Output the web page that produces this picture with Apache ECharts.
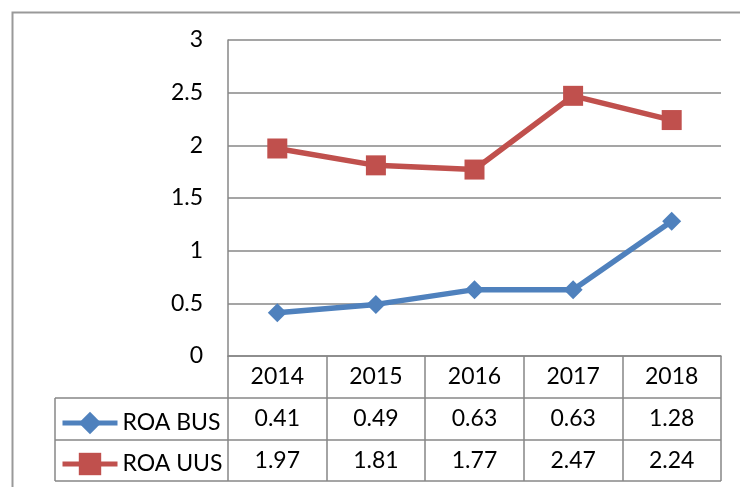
<!DOCTYPE html>
<html>
<head>
<meta charset="utf-8">
<script src="https://cdn.jsdelivr.net/npm/echarts@6/dist/echarts.min.js"></script>
<style>
  html, body { margin: 0; padding: 0; background: #fff; }
  #main { width: 740px; height: 487px; }
</style>
</head>
<body>
<div id="main"></div>
<script>
// data
var years = ['2014', '2015', '2016', '2017', '2018'];
var roaBus = [0.41, 0.49, 0.63, 0.63, 1.28];
var roaUus = [1.97, 1.81, 1.77, 2.47, 2.24];
var seriesNames = ['ROA BUS', 'ROA UUS'];
var yTicks = [0, 0.5, 1, 1.5, 2, 2.5, 3];

var FONT = 'Lato, "Open Sans", sans-serif';
var GRID_COLOR = '#878787';
var BLUE = '#4F81BD';
var RED = '#C0504D';

var myChart = echarts.init(document.getElementById('main'));

// table cells: [column, row, value]
var tableData = [];
roaBus.forEach(function (v, i) { tableData.push([i, seriesNames[0], v]); });
roaUus.forEach(function (v, i) { tableData.push([i, seriesNames[1], v]); });

var option = {
    backgroundColor: '#fff',
    animation: false,
    textStyle: { fontFamily: FONT },
    // outer chart frame and legend column's left edge
    graphic: [
        { type: 'rect', left: 10, top: 10, shape: { width: 800, height: 600 },
          style: { fill: 'none', stroke: '#999', lineWidth: 2 }, silent: true },
        { type: 'line', shape: { x1: 55, y1: 398, x2: 55, y2: 481 },
          style: { stroke: GRID_COLOR, lineWidth: 1.5 }, silent: true }
    ],
    legend: {
        orient: 'vertical',
        left: 55,
        top: 404,
        itemWidth: 55,
        itemHeight: 28,
        itemGap: 13,
        data: seriesNames,
        lineStyle: { width: 5 },
        textStyle: { fontFamily: FONT, fontSize: 23, color: '#000', lineHeight: 28 }
    },
    grid: [
        { left: 228, right: 19, top: 40, bottom: 131 },
        { left: 228, right: 19, top: 398, height: 83 }
    ],
    xAxis: [
        {
            gridIndex: 0,
            type: 'category',
            data: years,
            boundaryGap: true,
            axisLine: { lineStyle: { color: GRID_COLOR, width: 1.5 } },
            axisTick: { show: true, inside: false, length: 125, lineStyle: { color: GRID_COLOR, width: 1.5 } },
            axisLabel: { margin: 21, verticalAlign: 'middle', fontSize: 23, color: '#000', fontFamily: FONT }
        },
        {
            gridIndex: 1,
            type: 'category',
            data: years,
            show: false
        }
    ],
    yAxis: [
        {
            gridIndex: 0,
            type: 'value',
            min: yTicks[0],
            max: yTicks[yTicks.length - 1],
            interval: 0.5,
            axisLine: { show: true, lineStyle: { color: GRID_COLOR, width: 1.5 } },
            axisTick: { show: false },
            splitLine: { lineStyle: { color: GRID_COLOR, width: 1.5 } },
            axisLabel: { margin: 25, fontSize: 23, color: '#000', fontFamily: FONT }
        },
        {
            gridIndex: 1,
            type: 'category',
            data: seriesNames,
            inverse: true,
            axisLine: { show: false },
            axisTick: { show: true, length: 173, lineStyle: { color: GRID_COLOR, width: 1.5 } },
            axisLabel: { show: false },
            splitLine: { show: true, lineStyle: { color: GRID_COLOR, width: 1.5 } }
        }
    ],
    series: [
        {
            name: seriesNames[0],
            type: 'line',
            xAxisIndex: 0, yAxisIndex: 0,
            data: roaBus,
            symbol: 'diamond',
            symbolSize: 19,
            color: BLUE,
            lineStyle: { width: 5.5, color: BLUE },
            itemStyle: { color: BLUE }
        },
        {
            name: seriesNames[1],
            type: 'line',
            xAxisIndex: 0, yAxisIndex: 0,
            data: roaUus,
            symbol: 'rect',
            symbolSize: 20,
            color: RED,
            lineStyle: { width: 5.5, color: RED },
            itemStyle: { color: RED }
        },
        {
            // data table values
            type: 'scatter',
            xAxisIndex: 1, yAxisIndex: 1,
            data: tableData,
            symbolSize: 1,
            itemStyle: { color: '#fff', opacity: 1 },
            silent: true,
            label: {
                show: true,
                position: 'inside',
                fontSize: 23,
                fontFamily: FONT,
                color: '#000',
                opacity: 1,
                textBorderWidth: 0,
                formatter: function (p) { return p.value[2].toFixed(2); }
            }
        }
    ]
};

myChart.setOption(option);
</script>
</body>
</html>
